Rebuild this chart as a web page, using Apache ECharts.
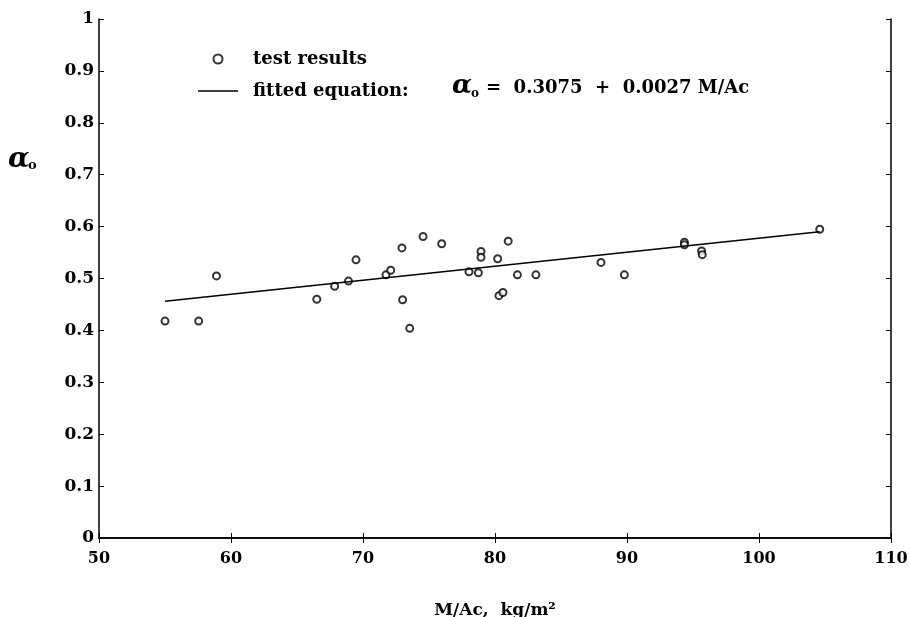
<!DOCTYPE html>
<html>
<head>
<meta charset="utf-8">
<script src="https://cdn.jsdelivr.net/npm/echarts@6/dist/echarts.min.js"></script>
<style>html,body{margin:0;padding:0;background:#fff;}#c{width:909px;height:617px;}</style>
</head>
<body>
<div id="c"></div>
<script>
// Test results: M/Ac (kg/m2) and alpha_o
const massRatio = [55.0, 57.55, 58.9, 66.5, 67.85, 68.9, 69.47, 71.74, 72.1, 72.95, 73.0, 73.54, 74.55, 75.96, 78.03, 78.74, 78.94, 78.94, 80.2, 80.3, 80.6, 81.0, 81.7, 83.1, 88.03, 89.8, 94.35, 94.35, 95.65, 95.7, 104.6];
const alphaO    = [0.418, 0.418, 0.505, 0.460, 0.485, 0.495, 0.536, 0.507, 0.516, 0.559, 0.459, 0.404, 0.581, 0.567, 0.513, 0.511, 0.552, 0.541, 0.538, 0.467, 0.473, 0.572, 0.507, 0.507, 0.531, 0.507, 0.570, 0.565, 0.553, 0.546, 0.595];
// Fitted line end points
const fitX = [55.0, 104.6];
const fitY = [0.456, 0.590];
// Axis ticks
const xTicks = {min: 50, max: 110, step: 10};
const yTicks = {min: 0, max: 1, step: 0.1};

const FONT = 'DejaVu Serif';
const scatterData = massRatio.map((x, i) => [x, alphaO[i]]);
const fitData = fitX.map((x, i) => [x, fitY[i]]);

const chart = echarts.init(document.getElementById('c'), null, {renderer: 'canvas'});
const axisCommon = {
  axisLine: {show: true, lineStyle: {color: '#000', width: 1.5}},
  axisTick: {show: true, inside: true, length: 5, lineStyle: {color: '#000', width: 1}},
  splitLine: {show: false}
};
chart.setOption({
  animation: false,
  backgroundColor: '#fff',
  grid: {left: 99, right: 18, top: 19, bottom: 79, containLabel: false, outerBoundsMode: 'none'},
  xAxis: [
    Object.assign({
      type: 'value', min: xTicks.min, max: xTicks.max, interval: xTicks.step, position: 'bottom',
      axisLabel: {color: '#000', fontFamily: FONT, fontWeight: 'bold', fontSize: 16, margin: 13},
      name: 'M/Ac,  kg/m²', nameLocation: 'middle', nameGap: 64,
      nameTextStyle: {color: '#000', fontFamily: FONT, fontWeight: 'bold', fontSize: 17}
    }, axisCommon),
    Object.assign({
      type: 'value', min: xTicks.min, max: xTicks.max, interval: xTicks.step, position: 'top',
      axisLabel: {show: false}
    }, axisCommon)
  ],
  yAxis: [
    Object.assign({
      type: 'value', min: yTicks.min, max: yTicks.max, interval: yTicks.step, position: 'left',
      axisLabel: {color: '#000', fontFamily: FONT, fontWeight: 'bold', fontSize: 17, margin: 5}
    }, axisCommon),
    Object.assign({
      type: 'value', min: yTicks.min, max: yTicks.max, interval: yTicks.step, position: 'right',
      axisLabel: {show: false}
    }, axisCommon)
  ],
  legend: {
    orient: 'vertical', left: 193, top: 44, itemWidth: 40, itemHeight: 9, itemGap: 12,
    symbolKeepAspect: true,
    textStyle: {color: '#000', fontFamily: FONT, fontWeight: 'bold', fontSize: 18, lineHeight: 20, padding: [0, 0, 0, 10]},
    data: [
      {name: 'test results', icon: 'emptyCircle', itemStyle: {color: '#000', borderColor: '#000', borderWidth: 1.5}},
      {name: 'fitted equation:', icon: 'path://M0,0 L40,0 L40,1.5 L0,1.5 Z', itemStyle: {color: '#000'}}
    ]
  },
  series: [
    {
      name: 'test results', type: 'scatter', data: scatterData,
      symbol: 'emptyCircle', symbolSize: 7,
      itemStyle: {color: '#000', borderColor: '#000', borderWidth: 1}
    },
    {
      name: 'fitted equation:', type: 'line', data: fitData,
      symbol: 'none', showSymbol: false,
      lineStyle: {color: '#000', width: 1.5},
      itemStyle: {color: '#000'}
    }
  ],
  graphic: [
    {type: 'text', left: 8, top: 146, style: {text: 'α', fontFamily: FONT, fontStyle: 'italic', fontWeight: 'bold', fontSize: 28, fill: '#000'}},
    {type: 'text', left: 28, top: 159, style: {text: 'o', fontFamily: FONT, fontWeight: 'bold', fontSize: 13, fill: '#000'}},
    {type: 'text', left: 452, top: 73, style: {text: 'α', fontFamily: FONT, fontStyle: 'italic', fontWeight: 'bold', fontSize: 26, fill: '#000'}},
    {type: 'text', left: 471, top: 88, style: {text: 'o', fontFamily: FONT, fontWeight: 'bold', fontSize: 12, fill: '#000'}},
    {type: 'text', left: 486, top: 79, style: {text: '=  0.3075  +  0.0027 M/Ac', fontFamily: FONT, fontWeight: 'bold', fontSize: 18, fill: '#000'}}
  ]
});
</script>
</body>
</html>
